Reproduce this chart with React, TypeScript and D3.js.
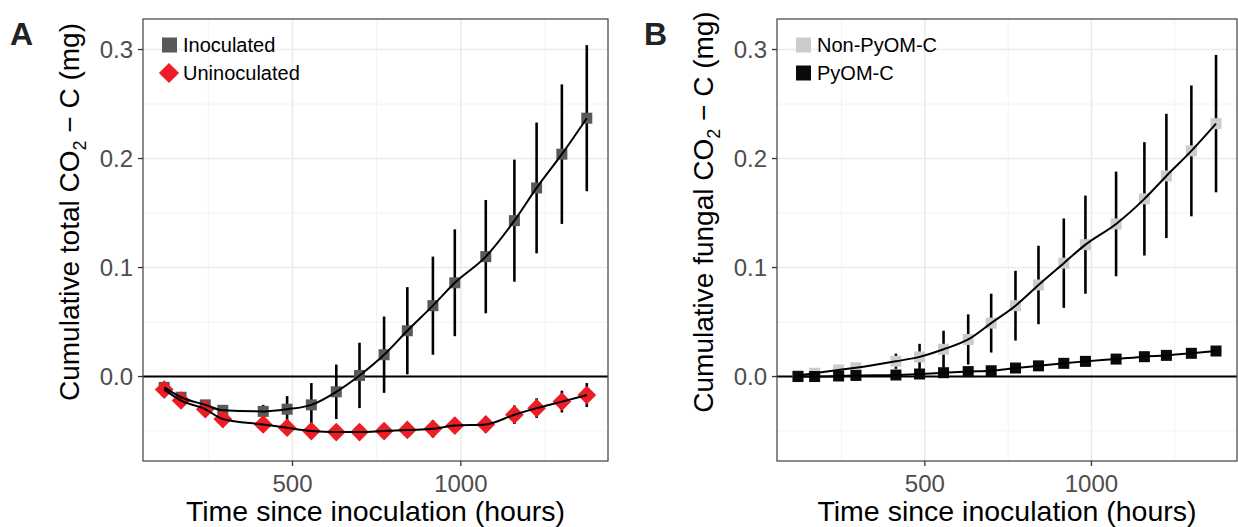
import * as d3 from "d3";

const hours = [119, 169, 241, 293, 413, 484, 556, 630, 699, 772, 841, 917, 982, 1074, 1159, 1225, 1300, 1374];

// panel A
const inoculatedMean = [-0.010, -0.019, -0.026, -0.031, -0.032, -0.030, -0.026, -0.014, 0.001, 0.020, 0.042, 0.065, 0.086, 0.110, 0.143, 0.173, 0.204, 0.237];
const inoculatedSe = [0.001, 0.001, 0.002, 0.003, 0.006, 0.012, 0.020, 0.025, 0.030, 0.035, 0.040, 0.045, 0.049, 0.052, 0.056, 0.060, 0.064, 0.067];
const uninoculatedMean = [-0.012, -0.022, -0.030, -0.039, -0.044, -0.047, -0.050, -0.051, -0.051, -0.050, -0.049, -0.048, -0.045, -0.044, -0.035, -0.029, -0.023, -0.017];
const uninoculatedSe = [0.003, 0.003, 0.004, 0.004, 0.004, 0.005, 0.005, 0.005, 0.005, 0.006, 0.006, 0.008, 0.0065, 0.0075, 0.0085, 0.009, 0.010, 0.011];

// panel B
const nonPyomMean = [0.001, 0.003, 0.006, 0.008, 0.014, 0.018, 0.025, 0.034, 0.049, 0.065, 0.084, 0.104, 0.121, 0.140, 0.163, 0.184, 0.207, 0.232];
const nonPyomSe = [0.001, 0.001, 0.002, 0.004, 0.007, 0.012, 0.017, 0.023, 0.027, 0.032, 0.036, 0.041, 0.045, 0.048, 0.052, 0.057, 0.060, 0.063];
const pyomMean = [0.000, 0.000, 0.0005, 0.001, 0.0014, 0.0023, 0.0035, 0.0045, 0.0053, 0.0078, 0.0098, 0.0121, 0.0139, 0.016, 0.0182, 0.0194, 0.0213, 0.0234];
const pyomSe = [0.001, 0.001, 0.001, 0.001, 0.001, 0.001, 0.001, 0.001, 0.001, 0.0015, 0.0015, 0.0015, 0.0015, 0.0015, 0.002, 0.002, 0.002, 0.002];

const yTicks = [0, 0.1, 0.2, 0.3];
const yMinor = [-0.05, 0.05, 0.15, 0.25];
const xTicks = [500, 1000];
const xMinor = [250, 750, 1250];

const FONT = "'Liberation Sans', Arial, Helvetica, sans-serif";

type Series = {
  name: string;
  mean: number[];
  se: number[];
  color: string;
  shape: "square" | "diamond";
};

function Marker({ shape, color, x, y, s }: { shape: string; color: string; x: number; y: number; s: number }) {
  if (shape === "diamond") {
    const r = s * 0.72;
    return <path d={`M${x},${y - r}L${x + r},${y}L${x},${y + r}L${x - r},${y}Z`} fill={color} />;
  }
  return <rect x={x - s / 2} y={y - s / 2} width={s} height={s} fill={color} />;
}

function Panel({ letter, left, right, yTitle, series }: { letter: string; left: number; right: number; yTitle: string; series: Series[] }) {
  const top = 19;
  const bottom = 461;
  const x = d3.scaleLinear().domain([56, 1437]).range([left, right]);
  const y = d3.scaleLinear().domain([-0.0775, 0.328]).range([bottom, top]);
  const line = d3
    .line<number>()
    .x((_, i) => x(hours[i]))
    .y((d) => y(d))
    .curve(d3.curveMonotoneX);

  return (
    <g>
      <rect x={left} y={top} width={right - left} height={bottom - top} fill="#fff" />
      {yMinor.map((t) => (
        <line key={"ym" + t} x1={left} x2={right} y1={y(t)} y2={y(t)} stroke="#f2f2f2" strokeWidth={1} />
      ))}
      {xMinor.map((t) => (
        <line key={"xm" + t} x1={x(t)} x2={x(t)} y1={top} y2={bottom} stroke="#f2f2f2" strokeWidth={1} />
      ))}
      {yTicks.map((t) => (
        <line key={"yg" + t} x1={left} x2={right} y1={y(t)} y2={y(t)} stroke="#ebebeb" strokeWidth={1.6} />
      ))}
      {xTicks.map((t) => (
        <line key={"xg" + t} x1={x(t)} x2={x(t)} y1={top} y2={bottom} stroke="#ebebeb" strokeWidth={1.6} />
      ))}
      <line x1={left} x2={right} y1={y(0)} y2={y(0)} stroke="#000" strokeWidth={2} />

      {series.map((s) => (
        <g key={s.name}>
          {s.mean.map((m, i) => (
            <line key={"e" + i} x1={x(hours[i])} x2={x(hours[i])} y1={y(m - s.se[i])} y2={y(m + s.se[i])} stroke="#000" strokeWidth={2.6} />
          ))}
          {s.mean.map((m, i) => (
            <Marker key={i} shape={s.shape} color={s.color} x={x(hours[i])} y={y(m)} s={s.shape === "diamond" ? 13 : 11} />
          ))}
        </g>
      ))}
      {series.map((s) => (
        <path key={"l" + s.name} d={line(s.mean) || ""} fill="none" stroke="#000" strokeWidth={2} />
      ))}

      <rect x={left} y={top} width={right - left} height={bottom - top} fill="none" stroke="#4d4d4d" strokeWidth={1.3} />

      {yTicks.map((t) => (
        <g key={"yt" + t}>
          <line x1={left - 5} x2={left} y1={y(t)} y2={y(t)} stroke="#333" strokeWidth={1.3} />
          <text x={left - 10} y={y(t)} dy="0.36em" textAnchor="end" fontSize={24} fill="#4d4d4d" fontFamily={FONT}>
            {t.toFixed(1)}
          </text>
        </g>
      ))}
      {xTicks.map((t) => (
        <g key={"xt" + t}>
          <line x1={x(t)} x2={x(t)} y1={bottom} y2={bottom + 5} stroke="#333" strokeWidth={1.3} />
          <text x={x(t)} y={492} textAnchor="middle" fontSize={24} fill="#4d4d4d" fontFamily={FONT}>
            {t}
          </text>
        </g>
      ))}
      <text x={(left + right) / 2} y={521} textAnchor="middle" fontSize={28.5} fill="#000" fontFamily={FONT}>
        Time since inoculation (hours)
      </text>
      <text
        transform={`translate(${left - 64},212) rotate(-90)`}
        textAnchor="middle"
        fontSize={28}
        fill="#000"
        fontFamily={FONT}
      >
        {yTitle}
        <tspan fontSize={18} dy="7">2</tspan>
        <tspan dy="-7">{" \u2212 C (mg)"}</tspan>
      </text>
      <text x={left - 133} y={45} fontSize={32} fontWeight="bold" fill="#222" fontFamily={FONT}>
        {letter}
      </text>

      {series.map((s, i) => (
        <g key={"lg" + s.name}>
          {s.shape === "diamond" ? (
            <Marker shape="diamond" color={s.color} x={left + 26} y={45 + i * 28} s={14} />
          ) : (
            <rect x={left + 19} y={45 + i * 28 - 7.5} width={15} height={15} fill={s.color} />
          )}
          <text x={left + 40} y={45 + i * 28} dy="0.36em" fontSize={20} fill="#000" fontFamily={FONT}>
            {s.name}
          </text>
        </g>
      ))}
    </g>
  );
}

export default function App() {
  const panelA: Series[] = [
    { name: "Inoculated", mean: inoculatedMean, se: inoculatedSe, color: "#595959", shape: "square" },
    { name: "Uninoculated", mean: uninoculatedMean, se: uninoculatedSe, color: "#ee1c25", shape: "diamond" },
  ];
  const panelB: Series[] = [
    { name: "Non-PyOM-C", mean: nonPyomMean, se: nonPyomSe, color: "#cccccc", shape: "square" },
    { name: "PyOM-C", mean: pyomMean, se: pyomSe, color: "#0a0a0a", shape: "square" },
  ];
  return (
    <svg
      width={1238}
      height={527}
      style={{ position: "absolute", left: 0, top: 0, background: "#fff" }}
    >
      <Panel letter="A" left={143} right={608} yTitle="Cumulative total CO" series={panelA} />
      <Panel letter="B" left={777} right={1237} yTitle="Cumulative fungal CO" series={panelB} />
    </svg>
  );
}
